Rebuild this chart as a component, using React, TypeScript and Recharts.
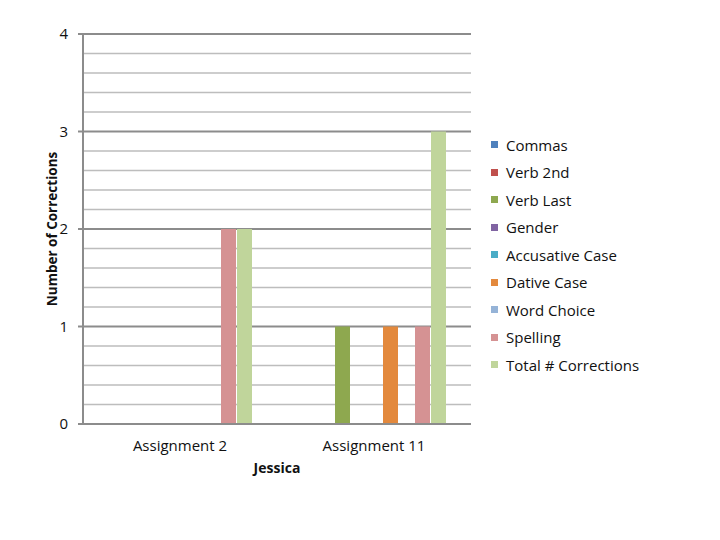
import React from 'react';
import { BarChart, Bar, XAxis, YAxis, CartesianGrid } from 'recharts';

const categories = ['Assignment 2', 'Assignment 11'];

const commas = [0, 0];
const verb2nd = [0, 0];
const verbLast = [0, 1];
const gender = [0, 0];
const accusative = [0, 0];
const dative = [0, 1];
const wordChoice = [0, 0];
const spelling = [2, 1];
const totalCorrections = [2, 3];

const yTicks = [0, 1, 2, 3, 4];
const minorTicks = [0.2, 0.4, 0.6, 0.8, 1.2, 1.4, 1.6, 1.8, 2.2, 2.4, 2.6, 2.8, 3.2, 3.4, 3.6, 3.8];

const series = [
  { key: 'Commas', values: commas, color: '#4F81BD' },
  { key: 'Verb 2nd', values: verb2nd, color: '#C0504D' },
  { key: 'Verb Last', values: verbLast, color: '#8EA84F' },
  { key: 'Gender', values: gender, color: '#8064A2' },
  { key: 'Accusative Case', values: accusative, color: '#4BACC6' },
  { key: 'Dative Case', values: dative, color: '#E3893D' },
  { key: 'Word Choice', values: wordChoice, color: '#95B3D7' },
  { key: 'Spelling', values: spelling, color: '#D59293' },
  { key: 'Total # Corrections', values: totalCorrections, color: '#C0D59B' },
];

const data = categories.map((name, i) => {
  const row: Record<string, string | number> = { name };
  series.forEach((s) => {
    row[s.key] = s.values[i];
  });
  return row;
});

const font = '"Open Sans", sans-serif';

export default function App() {
  return (
    <div style={{ position: 'absolute', left: 0, top: 0, width: 720, height: 540, background: '#fff' }}>
      <BarChart
        width={720}
        height={540}
        data={data}
        margin={{ top: 34, right: 249, bottom: 0, left: 0 }}
        barGap={1}
        barSize={15}
      >
        <CartesianGrid vertical={false} horizontalValues={minorTicks} stroke="#bdbdbd" strokeWidth={1.5} />
        <CartesianGrid vertical={false} stroke="#8c8c8c" strokeWidth={2} />
        <XAxis
          dataKey="name"
          height={116}
          tickLine={false}
          tickSize={0}
          tickMargin={16}
          axisLine={{ stroke: '#8c8c8c', strokeWidth: 2 }}
          tick={{ fill: '#111', fontSize: 15, fontFamily: font }}
          label={{ value: 'Jessica', position: 'insideTop', offset: 39, fill: '#111', fontSize: 14, fontWeight: 'bold', fontFamily: font }}
        />
        <YAxis
          width={83}
          domain={[0, 4]}
          ticks={yTicks}
          interval={0}
          tickSize={5}
          tickMargin={10}
          axisLine={{ stroke: '#8c8c8c', strokeWidth: 2 }}
          tickLine={{ stroke: '#8c8c8c', strokeWidth: 2 }}
          tick={{ fill: '#111', fontSize: 15, fontFamily: font }}
          label={{ value: 'Number of Corrections', angle: -90, position: 'insideLeft', offset: 52, fill: '#111', fontSize: 13.5, fontWeight: 'bold', fontFamily: font, style: { textAnchor: 'middle' } }}
        />
        {series.map((s) => (
          <Bar key={s.key} dataKey={s.key} fill={s.color} isAnimationActive={false} />
        ))}
      </BarChart>
      <div style={{ position: 'absolute', left: 491, top: 131, fontFamily: font, fontSize: 15, color: '#111' }}>
        {series.map((s) => (
          <div key={s.key} style={{ display: 'flex', alignItems: 'center', height: 27.5 }}>
            <span style={{ width: 7, height: 7, background: s.color, display: 'inline-block', marginRight: 8 }} />
            <span>{s.key}</span>
          </div>
        ))}
      </div>
    </div>
  );
}
